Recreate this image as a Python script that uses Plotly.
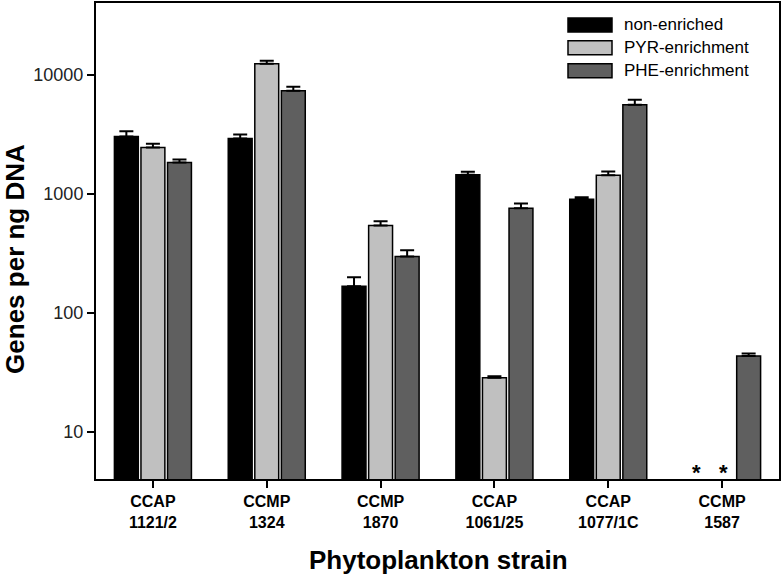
import plotly.graph_objects as go
import math

strains = ["CCAP<br>1121/2", "CCMP<br>1324", "CCMP<br>1870", "CCAP<br>1061/25", "CCAP<br>1077/1C", "CCMP<br>1587"]
series_names = ["non-enriched", "PYR-enrichment", "PHE-enrichment"]
non_enriched = [3030, 2910, 168, 1446, 900, None]
non_enriched_err = [3350, 3150, 200, 1535, 935, None]
pyr = [2450, 12360, 542, 28.6, 1430, None]
pyr_err = [2640, 13100, 590, 29.5, 1540, None]
phe = [1835, 7350, 298, 757, 5610, 43.6]
phe_err = [1940, 7940, 336, 830, 6170, 45.7]
colors = ["#000000", "#c0c0c0", "#5f5f5f"]
y_ticks = [10, 100, 1000, 10000]

L, R, T, B = 96, 4, 1, 96
W, H = 783, 575
pw, ph = W - L - R, H - T - B

def px_x(px):
    return (px - L) / pw

def px_y(py):
    return (H - B - py) / ph

x = list(range(len(strains)))
fig = go.Figure()
for name, vals, errs, col in zip(series_names, [non_enriched, pyr, phe],
                                 [non_enriched_err, pyr_err, phe_err], colors):
    plus = [(e - v) if (v is not None and e is not None) else None for v, e in zip(vals, errs)]
    fig.add_trace(go.Bar(
        x=x, y=vals, name=name,
        marker=dict(color=col, line=dict(color="black", width=1.5)),
        error_y=dict(type="data", symmetric=False, array=plus,
                     arrayminus=[0] * len(vals), color="black", thickness=2, width=7),
        showlegend=False,
    ))

# missing-value asterisks for CCMP 1587 (non-enriched, PYR)
for dx in (-0.225, 0.01):
    fig.add_annotation(x=5 + dx, y=math.log10(4.6), xref="x", yref="y", text="<b>*</b>",
                       showarrow=False, font=dict(size=22, color="black"), yanchor="middle")

# custom legend
rows = [23, 46, 69]
for name, col, ry in zip(series_names, colors, rows):
    fig.add_shape(type="rect", xref="paper", yref="paper",
                  x0=px_x(568), x1=px_x(612), y0=px_y(ry + 7), y1=px_y(ry - 7),
                  fillcolor=col, line=dict(color="black", width=1.5))
    fig.add_annotation(xref="paper", yref="paper", x=px_x(622), y=px_y(ry), text=name,
                       showarrow=False, xanchor="left", yanchor="middle",
                       font=dict(size=17, color="black"))

# axis titles
fig.add_annotation(xref="paper", yref="paper", x=px_x(438), y=px_y(560),
                   text="<b>Phytoplankton strain</b>", showarrow=False,
                   font=dict(size=26, color="black"), xanchor="center", yanchor="middle")
fig.add_annotation(xref="paper", yref="paper", x=px_x(15), y=px_y(258),
                   text="<b>Genes per ng DNA</b>", showarrow=False, textangle=-90,
                   font=dict(size=26, color="black"), xanchor="center", yanchor="middle")

fig.update_layout(
    width=W, height=H,
    margin=dict(l=L, r=R, t=T, b=B),
    paper_bgcolor="white", plot_bgcolor="white",
    barmode="group", bargap=0.3, bargroupgap=0.1,
    font=dict(family="Liberation Sans, Arial, sans-serif", color="black"),
)
fig.update_xaxes(
    range=[-0.5, 5.5], tickvals=x, ticktext=["<b>" + s.replace("<br>", "</b><br><b>") + "</b>" for s in strains],
    ticks="outside", ticklen=7, tickwidth=2, tickcolor="black",
    tickfont=dict(size=16, color="black"),
    showline=True, linecolor="black", linewidth=2, mirror=True, showgrid=False, zeroline=False,
)
fig.update_yaxes(
    type="log", range=[0.607, 4.602], tickvals=y_ticks, ticktext=[str(v) for v in y_ticks],
    ticks="outside", ticklen=7, tickwidth=2, tickcolor="black",
    tickfont=dict(size=18, color="#222222"),
    showline=True, linecolor="black", linewidth=2, mirror=True, showgrid=False, zeroline=False,
)

fig.write_html("out.html", config={"displayModeBar": False},
               post_script="document.body.style.margin='0';document.body.style.padding='0';")
